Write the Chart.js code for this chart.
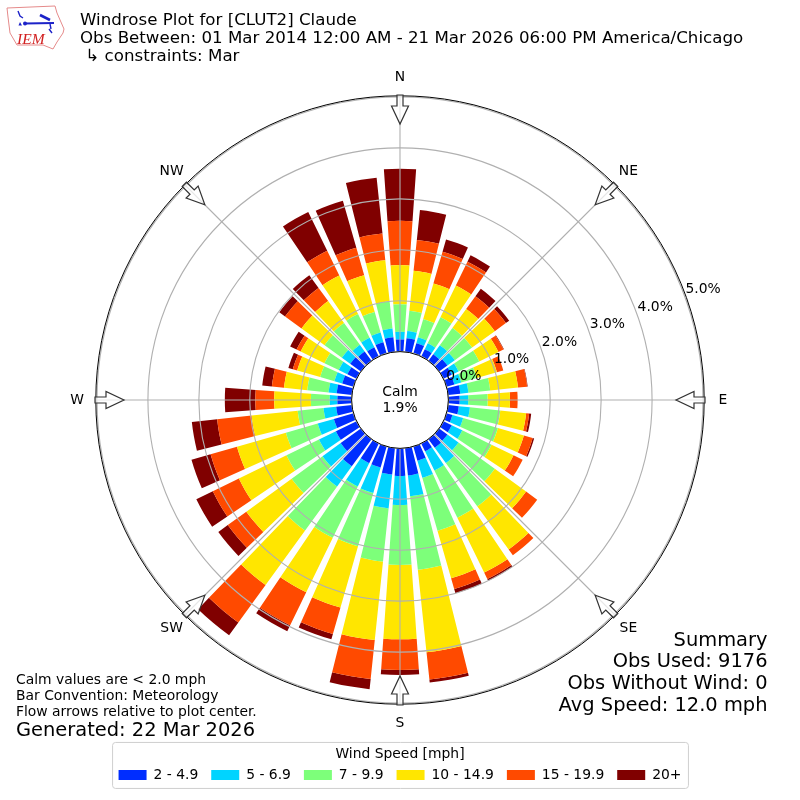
<!DOCTYPE html>
<html>
<head>
<meta charset="utf-8">
<title>Windrose Plot</title>
<script src="https://cdn.jsdelivr.net/npm/chart.js@4/dist/chart.umd.js"></script>
<style>
    html, body { margin: 0; padding: 0; background: #fff; }
    #wrap { position: relative; width: 800px; height: 800px; }
    #logo { position: absolute; left: 0; top: 0; }
</style>
</head>
<body>
<div id="wrap">
    <canvas id="rose" width="800" height="800"></canvas>
    <svg id="logo" width="70" height="55" viewBox="0 0 70 55">
        <path d="M7 8 L55 6 L57 13 L64 29 L63 33 L57 42 L53 49 L43 45 L17 45 L10 33 L8 17 Z" fill="none" stroke="#e58a8a" stroke-width="1"/>
        <path d="M25 23.5 L54 23" stroke="#1c22c8" stroke-width="2.2"/>
        <circle cx="25" cy="23.5" r="2" fill="#1c22c8"/>
        <path d="M40 15 L50 20" stroke="#1c22c8" stroke-width="2.6"/>
        <path d="M18 11 L20 16 L23 18 M50 24 L51 29 M49 29 L52 33" fill="none" stroke="#1c22c8" stroke-width="1.4"/>
        <path d="M20 22 L22 25.5 L18.5 25.5 Z" fill="#1c22c8"/>
        <text x="17" y="44" font-family="Liberation Serif" font-style="italic" font-size="15.5" fill="#d22020">IEM</text>
    </svg>
</div>
<script>
const compassLabels = ['N', 'NE', 'E', 'SE', 'S', 'SW', 'W', 'NW']
const directions = [10, 20, 30, 40, 50, 60, 70, 80, 90, 100, 110, 120, 130, 140, 150, 160, 170, 180,
    190, 200, 210, 220, 230, 240, 250, 260, 270, 280, 290, 300, 310, 320, 330, 340, 350, 360]
const speedLabels = ['2 - 4.9', '5 - 6.9', '7 - 9.9', '10 - 14.9', '15 - 19.9', '20+']
const speedColors = ['#002dff', '#00d4ff', '#7dff7a', '#ffe600', '#ff4a00', '#800000']

const speed2 = [.27, .21, .16, .16, .20, .18, .16, .24, .22, .21, .12, .18, .20, .21, .17, .29, .54, .54,
    .52, .43, .43, .66, .49, .45, .40, .31, .28, .30, .23, .20, .26, .23, .20, .23, .29, .24]
const speed5 = [.14, .12, .13, .22, .18, .15, .14, .16, .17, .22, .22, .23, .27, .37, .42, .35, .41, .57,
    .67, .52, .51, .49, .44, .37, .33, .25, .15, .16, .16, .19, .20, .16, .21, .20, .17, .15]
const speed7 = [.40, .37, .57, .42, .42, .45, .32, .43, .38, .60, .71, .64, .88, 1.05, 1.03, 1.08, 1.45, 1.18,
    1.05, 1.09, 1.12, 1.07, .75, .71, .65, .51, .37, .42, .29, .31, .42, .53, .52, .42, .54, .54]
const speed10 = [.79, .73, .69, .46, .55, .42, .41, .55, .44, .51, .53, .48, .76, 1.05, 1.20, .97, 1.63, 1.46,
    1.55, 1.25, 1.19, 1.32, 1.10, 1.04, 1.00, .91, .72, .46, .47, .52, .56, .53, .84, .75, .81, .77]
const speed15 = [.61, .65, .52, .31, .27, .11, .13, .18, .15, .06, .18, .20, .27, .14, .14, .22, .54, .60,
    .77, .54, .72, .91, .45, .57, .54, .68, .37, .24, .09, .09, .40, .32, .54, .56, .53, .87]
const speed20 = [.59, .25, .14, .18, .08, .01, 0, .01, 0, .04, .03, 0, 0, 0, .04, .09, .06, .10,
    .20, .11, .13, .31, .23, .36, .39, .50, .60, .19, .09, .14, .14, .31, .85, .96, 1.10, 1.02]
const speedSeries = [speed2, speed5, speed7, speed10, speed15, speed20]

const titleLines = ['Windrose Plot for [CLUT2] Claude',
    'Obs Between: 01 Mar 2014 12:00 AM - 21 Mar 2026 06:00 PM America/Chicago',
    ' \u21b3 constraints: Mar']
const noteLines = ['Calm values are < 2.0 mph', 'Bar Convention: Meteorology', 'Flow arrows relative to plot center.']
const generatedLine = 'Generated: 22 Mar 2026'
const summaryLines = ['Summary', 'Obs Used: 9176', 'Obs Without Wind: 0', 'Avg Speed: 12.0 mph']
const calmLines = ['Calm', '1.9%']

const FONT = '"DejaVu Sans"'
const BAR_WIDTH = 8 * Math.PI / 180

// stacked polar bars, the stock polarArea controller can only do equal slices from the centre
class WindRoseController extends Chart.PolarAreaController {
    static id = 'windrose'

    updateElements(arcs, start, count, mode) {
        const scale = this._cachedMeta.rScale
        const datasets = this.chart.data.datasets
        for (let i = start; i < start + count; i++) {
            let lower = 0
            for (let d = 0; d < this.index; d++) lower += datasets[d].data[i]
            const upper = lower + datasets[this.index].data[i]
            const mid = directions[i] * Math.PI / 180 - Math.PI / 2
            this.updateElement(arcs[i], i, {
                x: scale.xCenter,
                y: scale.yCenter,
                innerRadius: scale.getDistanceFromCenterForValue(lower),
                outerRadius: scale.getDistanceFromCenterForValue(upper),
                startAngle: mid - BAR_WIDTH / 2,
                endAngle: mid + BAR_WIDTH / 2,
                options: this.resolveDataElementOptions(i, mode)
            }, mode)
        }
    }
}
Chart.register(WindRoseController)

const drawText = (ctx, text, x, y, size, align) => {
    ctx.font = size + 'px ' + FONT
    ctx.fillStyle = '#000'
    ctx.textAlign = align || 'left'
    ctx.textBaseline = 'middle'
    ctx.fillText(text, x, y)
}

const drawArrow = (ctx, scale, index) => {
    const outer = scale.getDistanceFromCenterForValue(5) + 2
    const angle = scale.getIndexAngle(index)
    ctx.save()
    ctx.translate(scale.xCenter, scale.yCenter)
    ctx.rotate(angle)
    ctx.beginPath()
    ctx.moveTo(-3, -outer)
    ctx.lineTo(3, -outer)
    ctx.lineTo(3, -outer + 11)
    ctx.lineTo(8.5, -outer + 11)
    ctx.lineTo(0, -outer + 29)
    ctx.lineTo(-8.5, -outer + 11)
    ctx.lineTo(-3, -outer + 11)
    ctx.closePath()
    ctx.fillStyle = 'rgba(255,255,255,0.7)'
    ctx.fill()
    ctx.strokeStyle = '#333'
    ctx.lineWidth = 1.2
    ctx.stroke()
    ctx.restore()
}

const roseDecor = {
    id: 'roseDecor',
    beforeDraw(chart) {
        // rounded frame round the legend
        const ctx = chart.ctx
        const boxes = chart.legend.legendHitBoxes
        const left = boxes[0].left - 6
        const last = boxes[boxes.length - 1]
        const right = last.left + last.width + 7
        ctx.beginPath()
        ctx.roundRect(left, chart.legend.top, right - left, 46, 3)
        ctx.strokeStyle = '#cfcfcf'
        ctx.lineWidth = 1
        ctx.stroke()
    },
    afterDraw(chart) {
        const ctx = chart.ctx
        const scale = chart.scales.r
        const cx = scale.xCenter
        const cy = scale.yCenter

        // axes frame just outside the last ring
        ctx.beginPath()
        ctx.arc(cx, cy, scale.getDistanceFromCenterForValue(5) + 1.2, 0, Math.PI * 2)
        ctx.strokeStyle = '#000'
        ctx.lineWidth = 1
        ctx.stroke()

        compassLabels.forEach((label, i) => {
            drawArrow(ctx, scale, i)
            const pos = scale.getPointPosition(i, scale.getDistanceFromCenterForValue(5) + 20)
            drawText(ctx, label, pos.x, pos.y, 13.89, 'center')
        })

        // calm circle sits over the bars and grid
        ctx.beginPath()
        ctx.arc(cx, cy, scale.getDistanceFromCenterForValue(0), 0, Math.PI * 2)
        ctx.fillStyle = '#fff'
        ctx.fill()
        ctx.strokeStyle = '#000'
        ctx.stroke()
        drawText(ctx, calmLines[0], cx, cy - 8, 13.89, 'center')
        drawText(ctx, calmLines[1], cx, cy + 8, 13.89, 'center')

        // radial tick labels along bearing 70
        const tickAngle = (70 - 90) * Math.PI / 180
        scale.ticks.filter(t => t.value >= 0).forEach(t => {
            const r = scale.getDistanceFromCenterForValue(t.value) + 19.5
            drawText(ctx, t.value.toFixed(1) + '%', cx + Math.cos(tickAngle) * r, cy + Math.sin(tickAngle) * r, 13.89, 'center')
        })

        titleLines.forEach((line, i) => drawText(ctx, line, 80, 21 + i * 18, 16.67))
        noteLines.forEach((line, i) => drawText(ctx, line, 16, 680.5 + i * 16, 13.89))
        drawText(ctx, generatedLine, 16, 730.5, 19.44)
        summaryLines.forEach((line, i) => drawText(ctx, line, 767.5, 640.5 + i * 21.7, 19.44, 'right'))
    }
}

new Chart(document.getElementById('rose'), {
    type: 'windrose',
    data: {
        labels: compassLabels,
        datasets: speedSeries.map((values, i) => ({
            label: speedLabels[i],
            data: values,
            backgroundColor: speedColors[i],
            borderWidth: 0
        }))
    },
    options: {
        responsive: false,
        devicePixelRatio: 1,
        animation: false,
        events: [],
        layout: {
            padding: { top: 58, bottom: 8, left: 97, right: 97 }
        },
        scales: {
            r: {
                min: -0.95,
                max: 5,
                startAngle: 0,
                ticks: { display: false, stepSize: 1 },
                pointLabels: { display: false },
                grid: { circular: true, color: '#b0b0b0', lineWidth: 1.1, z: 1 },
                angleLines: { display: true, color: '#b0b0b0', lineWidth: 1.1 }
            }
        },
        plugins: {
            tooltip: { enabled: false },
            legend: {
                position: 'bottom',
                title: {
                    display: true,
                    text: 'Wind Speed [mph]',
                    color: '#000',
                    font: { family: FONT, size: 13.89 },
                    padding: { top: 5, bottom: -9 }
                },
                labels: {
                    boxWidth: 28,
                    boxHeight: 10,
                    color: '#000',
                    padding: 13,
                    font: { family: FONT, size: 13.89 },
                    generateLabels: chart => Chart.defaults.plugins.legend.labels.generateLabels(chart)
                }
            }
        }
    },
    plugins: [roseDecor]
})
</script>
</body>
</html>
